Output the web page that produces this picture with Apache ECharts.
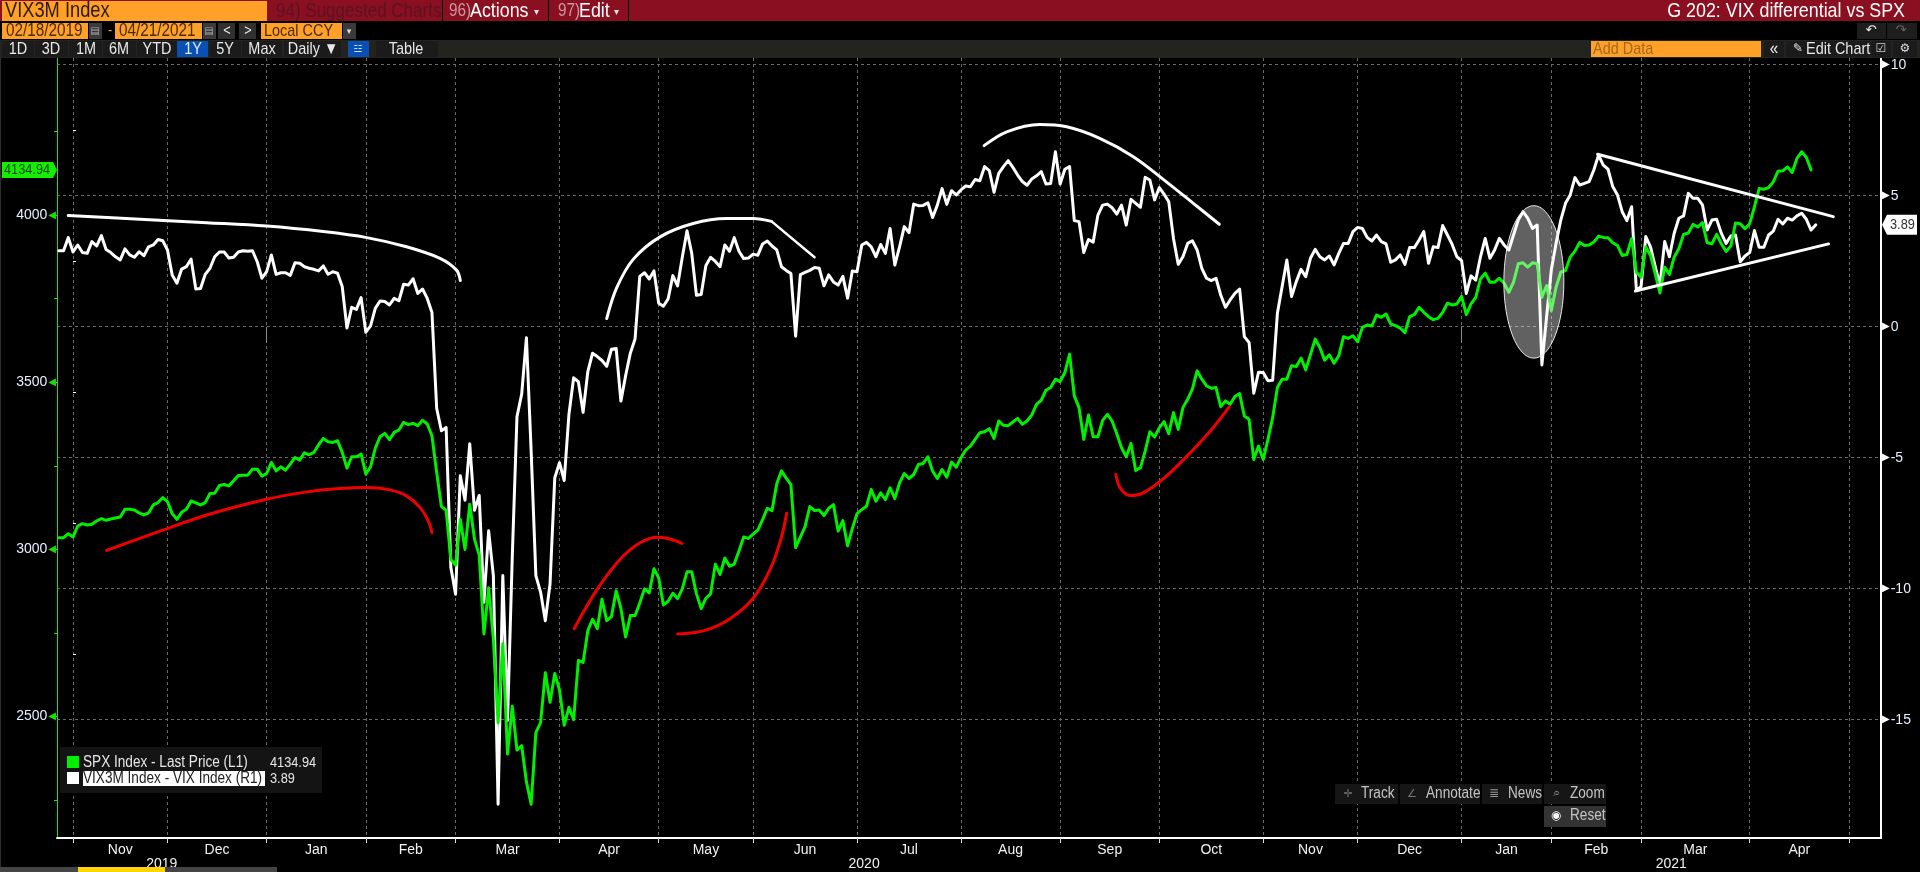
<!DOCTYPE html>
<html>
<head>
<meta charset="utf-8">
<title>G 202: VIX differential vs SPX</title>
<style>html,body{margin:0;padding:0;background:#000;overflow:hidden}#c{width:1920px;height:872px}</style>
<script src="https://cdn.jsdelivr.net/npm/echarts@6/dist/echarts.min.js"></script>
</head>
<body>
<div id="c"></div>
<script>
// Trading-day index: 0 = first trading day of Nov 2019. Both series start at day -3.
const firstDay = -3;
const spxValues = [
3035,3035,3047,3037,3070,3077,3073,3075,3085,3092,3087,3091,3094,
3097,3120,3120,3118,3109,3103,3109,3133,3140,3155,3143,3107,3090,3111,3120,3145,3139,
3133,3140,3167,3168,3191,3194,3190,3205,3221,3222,3222,3240,3240,3219,3227,3260,3235,3247,3237,3255,
3275,3267,3289,3283,3290,3313,3332,3322,3320,3325,3290,3243,3277,3277,3285,3225,3247,3303,3337,3347,
3328,3350,3357,3380,3373,3377,3370,3386,3375,3340,3230,3128,3117,2970,2953,3090,3000,3135,3031,2983,
2747,2885,2732,2482,2718,2388,2531,2400,2413,2305,2238,2452,2482,2631,2543,2629,2580,2474,2528,2491,
2668,2662,2757,2791,2763,2851,2787,2799,2876,2824,2738,2802,2802,2840,2882,2870,2942,2915,2834,2845,
2869,2853,2882,2933,2933,2867,2823,2854,2867,2956,2925,2974,2950,2956,2995,3037,3033,3046,3058,3089,
3123,3116,3196,3235,3213,3194,3005,3037,3068,3128,3116,3118,3101,3123,3134,3055,3086,3011,3062,3107,
3119,3129,3179,3144,3169,3149,3184,3152,3199,3227,3212,3224,3254,3257,3277,3234,3212,3239,3216,3261,
3246,3274,3297,3309,3329,3349,3352,3361,3332,3384,3371,3370,3381,3392,3374,3384,3402,3434,3446,3476,
3484,3509,3502,3529,3584,3459,3424,3329,3402,3337,3337,3386,3404,3384,3346,3304,3277,3317,3236,3244,
3294,3352,3336,3364,3382,3346,3409,3359,3424,3449,3479,3534,3509,3489,3482,3484,3427,3444,3434,3457,
3466,3399,3389,3269,3309,3269,3329,3394,3484,3509,3509,3549,3547,3572,3537,3582,3629,3604,3566,3582,
3557,3579,3636,3631,3639,3621,3664,3671,3668,3701,3694,3704,3674,3669,3662,3648,3696,3702,3724,3709,
3696,3687,3691,3709,3736,3731,3734,3757,3702,3734,3754,3809,3826,3799,3799,3811,3796,3769,3799,3854,
3857,3844,3857,3854,3754,3789,3714,3784,3829,3834,3874,3892,3918,3909,3910,3919,3937,3933,3932,3917,
3909,3879,3882,3929,3829,3814,3904,3879,3824,3767,3844,3822,3874,3899,3942,3946,3972,3964,3977,3917,
3914,3942,3914,3891,3907,3976,3974,3959,3974,4024,4079,4077,4082,4099,4131,4132,4144,4127,4169,4189,
4172,4134.94
];
const vixDiffValues = [
2.90,2.90,3.40,2.85,3.12,2.83,2.80,3.25,3.08,3.48,2.95,2.83,2.67,
2.55,2.97,2.74,2.65,2.86,2.71,3.05,3.12,3.33,3.28,2.93,1.97,1.66,2.20,2.29,2.58,1.44,
1.46,2.00,2.23,2.67,2.85,2.85,2.62,2.65,2.85,2.90,2.88,2.90,2.48,1.85,2.10,2.74,2.00,2.06,2.06,1.96,
2.44,2.42,2.29,2.23,2.19,2.13,2.32,2.00,2.10,2.04,1.53,-0.05,0.74,0.66,1.11,-0.21,0.03,0.70,0.98,0.96,
0.83,1.08,0.99,1.62,1.59,1.83,1.27,1.44,1.08,0.54,-3.12,-3.97,-3.85,-9.19,-10.21,-5.69,-6.62,-4.47,-7.01,-6.44,
-10.52,-7.79,-9.50,-18.23,-9.50,-15.03,-8.80,-3.43,-2.57,-0.42,-4.75,-9.50,-10.13,-11.22,-9.82,-5.77,-5.19,-5.87,-3.35,-1.95,
-2.10,-3.27,-1.71,-1.01,-1.14,-1.29,-1.51,-0.86,-0.83,-2.84,-1.87,-1.01,-0.47,1.92,2.06,1.82,2.13,0.90,0.78,1.06,
1.95,1.56,2.65,3.66,2.80,1.20,1.23,2.34,2.65,2.49,2.29,3.12,2.88,3.40,2.88,2.60,2.62,2.77,2.73,3.16,
3.27,3.08,2.93,2.29,2.15,2.03,-0.36,1.99,2.07,2.15,2.26,2.23,1.56,1.98,1.71,1.59,1.92,1.09,2.13,2.10,
3.12,3.22,3.05,2.67,3.14,2.80,3.75,2.35,3.05,3.82,3.59,4.68,4.62,4.63,4.73,4.17,4.64,5.27,4.67,5.19,
5.03,5.22,5.37,5.34,5.62,5.57,6.11,5.96,5.13,5.85,6.11,6.34,6.08,5.79,5.54,5.40,5.64,5.76,5.92,5.45,
5.47,6.68,5.45,6.01,6.11,4.05,4.01,2.83,3.33,3.23,4.26,4.64,4.68,4.54,4.30,4.64,3.88,4.86,4.71,4.56,
5.70,5.60,4.84,5.31,5.06,4.77,3.37,2.38,2.67,3.18,3.28,2.93,2.23,1.85,1.76,1.85,1.21,0.74,1.02,1.27,
1.44,-0.38,-0.60,-2.54,-1.74,-1.75,-2.06,-2.04,0.51,1.53,2.55,1.15,1.72,2.19,1.91,2.61,2.95,2.67,2.55,2.70,
2.36,2.80,3.18,3.18,3.63,3.79,3.75,3.41,3.27,3.50,3.25,3.16,2.46,2.55,2.74,2.38,3.02,3.02,3.31,3.63,
2.42,3.05,3.02,3.86,3.50,3.14,2.67,2.52,1.27,1.94,1.78,2.67,3.37,2.61,2.93,3.37,3.12,2.93,3.50,4.07,
4.39,4.14,3.75,3.88,-1.46,0.38,2.17,3.18,4.07,4.71,5.03,5.69,5.41,5.47,5.54,5.98,6.55,6.17,6.01,5.35,
5.03,4.39,4.05,4.58,1.40,1.53,3.44,3.05,2.29,1.59,3.25,2.67,3.56,4.14,4.23,5.09,4.90,4.90,4.65,3.69,
4.07,4.10,3.56,3.18,3.46,3.50,2.48,2.70,2.83,3.67,3.03,3.03,3.50,3.65,4.10,3.92,4.14,4.07,4.23,4.33,
4.10,3.69,3.89
];
// Axis contents
const monthStartDays = [0,20,41,62,81,103,124,144,166,188,209,230,252,272,294,313,332,355,376];
const monthLabels = ['Nov','Dec','Jan','Feb','Mar','Apr','May','Jun','Jul','Aug','Sep','Oct','Nov','Dec','Jan','Feb','Mar','Apr'];
const yearBoundaryDays = [41,294];
const yearLabels = ['2019','2020','2021'];
const yearLabelDays = [18.8,167.5,338.4];
const leftLabelTicks = [2500,3000,3500,4000];
const leftAllTicks = [2250,2500,2750,3000,3250,3500,3750,4000,4250];
const rightLabelTicks = [-15,-10,-5,0,5,10];
const rightMinorTicks = [-17.5,-12.5,-7.5,-2.5,2.5,7.5];
// Hand-drawn annotations, read as [trading day, axis value]
const whiteArcA = [[-1,4.24],[14.2,4.10],[28.3,3.97],[41,3.84],[53,3.63],[62.2,3.40],[70.6,3.05],[77.7,2.61],[81.2,2.16],[82,1.76]];
const whiteArcB = [[113,0.31],[115.1,1.48],[118.6,2.57],[124.3,3.43],[131.3,3.94],[138.4,4.13],[144,4.13],[147.9,4.02]];
const whiteSlashB = [[147.9,4.02],[157,2.65]];
const whiteArcC = [[192.9,6.91],[197.7,7.44],[204.7,7.72],[210.4,7.63],[217.4,7.19],[224.5,6.49],[231.5,5.53],[237.2,4.71],[242.7,3.91]];
const wedgeTop = [[322.8,6.58],[372.7,4.20]];
const wedgeBottom = [[330.8,1.36],[371.7,3.16]];
const redArcA = [[7.1,2997],[17.7,3051],[28.3,3103],[41,3150],[49.5,3172],[56.5,3182],[62.2,3185],[67.1,3178],[70.6,3160],[73.5,3125],[75.2,3085],[76,3050]];
const redArcB = [[106.1,2763],[110.9,2879],[115.8,2970],[120,3019],[123.9,3036],[126.4,3031],[128.9,3018]];
const redArcC = [[128,2747],[133.6,2757],[139.1,2793],[144,2854],[147.6,2940],[150,3037],[151.1,3108]];
const redArcD = [[220.8,3224],[221.7,3184],[223.8,3161],[226.6,3169],[231.5,3219],[237.2,3299],[241.4,3364],[244.8,3426]];
const highlightEllipse = [[309.3,1.71,6.35,2.91]];

const SANS = '"Liberation Sans",sans-serif';
const withDays = vs => vs.map((v,i)=>[firstDay+i,v]);
const midpoints = monthLabels.map((_,i)=>(monthStartDays[i]+monthStartDays[i+1])/2);

const chart = echarts.init(document.getElementById('c'),null,{renderer:'canvas'});

const lineSeries = (name,data,color,width,yAxisIndex,smooth,z) => ({
  type:'line',name,data,yAxisIndex,smooth:smooth?0.35:false,showSymbol:false,symbol:'none',silent:true,
  lineStyle:{color,width,cap:'round',join:'round'},z,animation:false
});

chart.setOption({
  backgroundColor:'#000',
  animation:false,
  textStyle:{fontFamily:SANS},
  grid:{left:57,right:39,top:58,bottom:34,containLabel:false},
  xAxis:[{
    type:'value',min:-3.39,max:382.8,
    axisLine:{show:true,onZero:false,lineStyle:{color:'#fff',width:2}},
    axisTick:{show:true,length:5,customValues:monthStartDays,lineStyle:{color:'#ddd',width:1}},
    splitLine:{show:true,lineStyle:{color:'#6a6a6a',type:[3,3],width:1}},
    axisLabel:{customValues:midpoints,margin:5,color:'#f2f2f2',fontSize:14,fontFamily:SANS,
      formatter:v=>monthLabels[midpoints.indexOf(v)]||''}
  },{
    type:'value',min:-3.39,max:382.8,position:'bottom',offset:17,
    axisLine:{show:false},
    axisTick:{show:true,length:16,customValues:yearBoundaryDays,lineStyle:{color:'#8a8a8a',width:1}},
    splitLine:{show:false},
    axisLabel:{customValues:yearLabelDays,margin:2,color:'#f2f2f2',fontSize:14,fontFamily:SANS,
      formatter:v=>yearLabels[yearLabelDays.indexOf(v)]||''}
  }],
  yAxis:[{
    type:'value',position:'left',min:2137,max:4469.5,
    axisLine:{show:true,onZero:false,lineStyle:{color:'#22e000',width:1}},
    axisTick:{show:true,length:3,customValues:leftAllTicks,lineStyle:{color:'#22e000'}},
    splitLine:{show:false},
    axisLabel:{customValues:leftLabelTicks,margin:1,fontFamily:SANS,
      formatter:v=>'{v|'+v+'}{t|\u25C0}',
      rich:{v:{color:'#e6eeff',fontSize:14,fontFamily:SANS,padding:[0,1,0,0]},t:{color:'#16e000',fontSize:10,fontFamily:'DejaVu Sans'}}}
  },{
    type:'value',position:'right',min:-19.515,max:10.256,
    axisLine:{show:true,onZero:false,lineStyle:{color:'#fff',width:2}},
    axisTick:{show:false,customValues:rightLabelTicks},
    splitLine:{show:true,lineStyle:{color:'#6a6a6a',type:[3,3],width:1}},
    axisLabel:{customValues:rightLabelTicks,margin:1,fontFamily:SANS,
      formatter:v=>'{t|\u25B6}{v|'+v+'}',
      rich:{v:{color:'#e6eeff',fontSize:14,fontFamily:SANS,padding:[0,0,0,1]},t:{color:'#fff',fontSize:10,fontFamily:'DejaVu Sans'}}}
  },{
    type:'value',position:'right',min:-19.515,max:10.256,
    axisLine:{show:false},
    axisTick:{show:true,length:3,customValues:rightMinorTicks,lineStyle:{color:'#fff'}},
    splitLine:{show:false},axisLabel:{show:false}
  }],
  series:[
    lineSeries('VIX3M Index - VIX Index (R1)',withDays(vixDiffValues),'#ffffff',3,1,false,3),
    lineSeries('SPX Index - Last Price (L1)',withDays(spxValues),'#00f000',3,0,false,4),
    lineSeries('Arc A',whiteArcA,'#ffffff',3,1,true,5),
    lineSeries('Arc B',whiteArcB,'#ffffff',3,1,true,5),
    lineSeries('Slash B',whiteSlashB,'#ffffff',2.5,1,false,5),
    lineSeries('Arc C',whiteArcC,'#ffffff',3,1,true,5),
    lineSeries('Wedge top',wedgeTop,'#ffffff',3,1,false,5),
    lineSeries('Wedge bottom',wedgeBottom,'#ffffff',3,1,false,5),
    lineSeries('Red A',redArcA,'#ee0000',3,0,true,5),
    lineSeries('Red B',redArcB,'#ee0000',3,0,true,5),
    lineSeries('Red C',redArcC,'#ee0000',3,0,true,5),
    lineSeries('Red D',redArcD,'#ee0000',3,0,true,5),
    {type:'custom',name:'Highlight',data:highlightEllipse,yAxisIndex:1,silent:true,z:6,
     encode:{x:0,y:1},
     renderItem:(p,api)=>{
       const c=api.coord([api.value(0),api.value(1)]);
       const s=api.size([api.value(2),api.value(3)]);
       return {type:'ellipse',shape:{cx:c[0],cy:c[1],rx:s[0],ry:s[1]},
         style:{fill:'rgba(255,255,255,0.38)',stroke:'#e8e8e8',lineWidth:1}};
     }}
  ]
});

// Terminal chrome; the terminal's condensed face is approximated by narrowing Liberation Sans
const gfx=[];
const rect=(x,y,w,h,fill)=>gfx.push({type:'rect',silent:true,z:100,shape:{x,y,width:w,height:h},style:{fill}});
const txt=(x,y,text,fill,size,align,family)=>gfx.push({type:'text',silent:true,z:101,x,y,scaleX:family?1:0.85,
  style:{text,fill,fontSize:size||15,fontFamily:family||SANS,textAlign:align||'left',textVerticalAlign:'middle'}});
const ORANGE='#ffa028',MAROON='#8a0f20',BTN='#1b1b1b',BLUE='#0a50b4',INK='#4a2a00',SYM='DejaVu Sans';

// top bar
rect(0,0,1920,21,MAROON);
rect(2,1,265,20,ORANGE);
txt(5,11,'VIX3M Index','#2a1a00',21.5);
txt(276,11,'94) Suggested Charts','#5a1420',20);
rect(442,0,1,21,'#000');rect(548,0,1,21,'#000');rect(628,0,1,21,'#000');
txt(449,11,'96)','#c89aa2',18);txt(470,11,'Actions','#fff',21);txt(534,12,'\u25BE','#ddd',10,'left',SYM);
txt(558,11,'97)','#c89aa2',18);txt(579,11,'Edit','#fff',21);txt(614,12,'\u25BE','#ddd',10,'left',SYM);
txt(1905,11,'G 202: VIX differential vs SPX','#fff',21,'right');
// date row
rect(2,23,86,16,ORANGE);txt(6,31,'02/18/2019',INK,18);
rect(89,23,13,16,'#3a3a3a');txt(95,31,'\u25A4','#aaa',10,'center',SYM);
txt(110,31,'-',ORANGE,15,'center');
rect(115,23,87,16,ORANGE);txt(119,31,'04/21/2021',INK,18);
rect(203,23,13,16,'#3a3a3a');txt(209,31,'\u25A4','#aaa',10,'center',SYM);
rect(218,23,17,16,'#303030');txt(227,31,'<','#eee',15,'center');
rect(239,23,17,16,'#303030');txt(248,31,'>','#eee',15,'center');
rect(261,23,81,16,ORANGE);txt(264,31,'Local CCY',INK,17);
rect(343,23,13,16,'#3a3a3a');txt(349,32,'\u25BE','#ddd',9,'center',SYM);
rect(1857,23,29,16,'#1e1e1e');rect(1887,23,30,16,'#1e1e1e');
txt(1871,31,'\u21B6','#eee',13,'center',SYM);txt(1901,31,'\u21B7','#666',13,'center',SYM);
// range row
rect(0,40,1920,18,'#23231f');
[[2,32,'1D',18],[35,33,'3D',51],[69,33,'1M',86],[103,33,'6M',119],[137,40,'YTD',157],[210,31,'5Y',225],[242,40,'Max',262],[284,57,'Daily \u25BC',313],[376,62,'Table',406]]
  .forEach(b=>{rect(b[0],41,b[1],16,BTN);txt(b[3],49,b[2],'#e8e8e8',17,'center');});
rect(177,41,31,16,BLUE);txt(193,49,'1Y','#dfe9ff',17,'center');
rect(348,41,21,16,BLUE);txt(358,49,'\u2633','#cfe0ff',10,'center',SYM);
rect(1591,41,170,16,ORANGE);txt(1593,49,'Add Data','#a06a20',17);
rect(1764,41,20,16,BTN);txt(1774,49,'\u00AB','#e8e8e8',18,'center');
rect(1786,41,83,16,BTN);txt(1798,49,'\u270E','#e8e8e8',12,'center',SYM);txt(1806,49,'Edit Chart','#e8e8e8',17);
rect(1871,41,20,16,BTN);txt(1881,49,'\u2611','#ccc',12,'center',SYM);
rect(1893,41,24,16,BTN);txt(1905,49,'\u2699','#ddd',12,'center',SYM);
// left edge and scrollbar
rect(0,58,1,810,'#2e2e2e');
rect(0,867,277,5,'#444');rect(78,867,87,5,'#ffd400');
// legend
rect(60,747,262,46,'#141414');
rect(67,756,12,12,'#00f000');rect(67,772,12,12,'#fff');
rect(83,771,182,15,'#fff');
txt(83,763,'SPX Index - Last Price (L1)','#e6e6e6',16);
txt(83,779,'VIX3M Index - VIX Index (R1)','#222',16);
txt(270,763,'4134.94','#e6e6e6',15);txt(270,779,'3.89','#e6e6e6',15);
// bottom-right tools
[[1335,63],[1400,80],[1482,60],[1544,62]].forEach(b=>rect(b[0],784,b[1],20,'#161616'));
rect(1544,806,62,21,'#333');
txt(1348,794,'\u271B','#777',11,'center',SYM);txt(1361,794,'Track','#c4c4c4',16);
txt(1412,794,'\u2220','#777',11,'center',SYM);txt(1426,794,'Annotate','#c4c4c4',16);
txt(1494,794,'\u2263','#999',12,'center',SYM);txt(1508,794,'News','#c4c4c4',16);
txt(1556,794,'\u2315','#888',13,'center',SYM);txt(1570,794,'Zoom','#c4c4c4',16);
txt(1556,816,'\u25C9','#fff',12,'center',SYM);txt(1570,816,'Reset','#c4c4c4',16);
// last-value tags follow the axes
const spxLast=spxValues[spxValues.length-1], vixLast=vixDiffValues[vixDiffValues.length-1];
const ySpx=chart.convertToPixel({yAxisIndex:0},spxLast), yVix=chart.convertToPixel({yAxisIndex:1},vixLast);
gfx.push({type:'polygon',silent:true,z:100,shape:{points:[[2,ySpx-8],[53,ySpx-8],[57,ySpx],[53,ySpx+8],[2,ySpx+8]]},style:{fill:'#16ee00'}});
txt(4,ySpx,'4134.94','#0a4a10',15);
gfx.push({type:'polygon',silent:true,z:100,shape:{points:[[1882,yVix],[1887,yVix-10],[1917,yVix-10],[1917,yVix+10],[1887,yVix+10]]},style:{fill:'#fff'}});
txt(1890,yVix,'3.89','#333',15);

chart.setOption({graphic:{elements:gfx}});
</script>
</body>
</html>
